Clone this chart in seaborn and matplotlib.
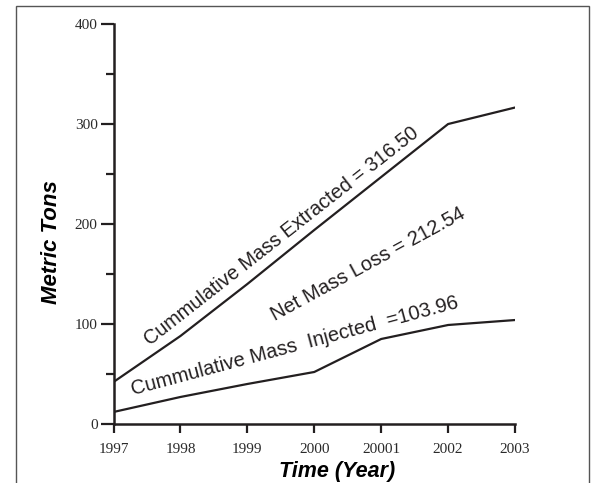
import numpy as np
import pandas as pd
import seaborn as sns
import matplotlib.pyplot as plt
from matplotlib.patches import Rectangle
from matplotlib.ticker import MultipleLocator

# data
year_labels = ["1997", "1998", "1999", "2000", "20001", "2002", "2003"]
extracted = [42, 88, 140, 194, 247, 300, 316.5]
injected = [12, 27, 40, 52, 85, 99, 103.96]

sns.set_style("ticks")
plt.rcParams['font.family'] = ['Liberation Sans', 'DejaVu Sans']
ink = "#231f20"

df = pd.DataFrame({
    "pos": list(range(len(year_labels))) * 2,
    "tons": extracted + injected,
    "series": ["Extracted"] * len(extracted) + ["Injected"] * len(injected),
})

fig = plt.figure(figsize=(6.01, 4.83), dpi=100)
ax = fig.add_axes([0.1889, 0.1222, 0.668, 0.828])

sns.lineplot(data=df, x="pos", y="tons", hue="series", palette=[ink, ink],
             linewidth=1.6, legend=False, ax=ax)

ax.set_xlim(0, len(year_labels) - 1)
ax.set_ylim(0, 400)
ax.set_xticks(range(len(year_labels)))
ax.set_xticklabels(year_labels)
ax.set_yticks([0, 100, 200, 300, 400])
ax.yaxis.set_minor_locator(MultipleLocator(50))

for side in ["top", "right"]:
    ax.spines[side].set_visible(False)
for side in ["left", "bottom"]:
    ax.spines[side].set_linewidth(1.8)
    ax.spines[side].set_color(ink)

ax.tick_params(axis="x", which="major", direction="out", length=6.5, width=1.6,
               color=ink, pad=7)
ax.tick_params(axis="y", which="major", direction="out", length=9.4, width=1.6,
               color=ink, pad=2)
ax.tick_params(axis="y", which="minor", direction="out", length=5.8, width=1.6,
               color=ink)
for lab in ax.get_xticklabels() + ax.get_yticklabels():
    lab.set_family(['Liberation Serif', 'DejaVu Serif'])
    lab.set_fontsize(11)
    lab.set_color("#2a2a2a")

ax.set_xlabel("Time (Year)", fontsize=15.5, fontweight="bold", fontstyle="italic",
              color="black")
ax.xaxis.set_label_coords(0.557, -0.093)
ax.set_ylabel("Metric Tons", fontsize=16, fontweight="bold", fontstyle="italic",
              color="black")
ax.yaxis.set_label_coords(-0.128, 0.455)

ax.text(2.51, 188, "Cummulative Mass Extracted = 316.50", rotation=38,
        fontsize=14.3, color=ink, ha="center", va="center",
        rotation_mode="anchor")
ax.text(3.81, 160, "Net Mass Loss = 212.54", rotation=28.5,
        fontsize=14.5, color=ink, ha="center", va="center",
        rotation_mode="anchor")
ax.text(2.71, 78, "Cummulative Mass  Injected  =103.96", rotation=15,
        fontsize=14.5, color=ink, ha="center", va="center",
        rotation_mode="anchor")

fig.patches.append(Rectangle((16 / 601, -0.02), 573 / 601, 1.0 - 6 / 483 + 0.02,
                             transform=fig.transFigure, fill=False,
                             edgecolor="#555555", linewidth=1.0))

plt.savefig("out.png", dpi=100)
